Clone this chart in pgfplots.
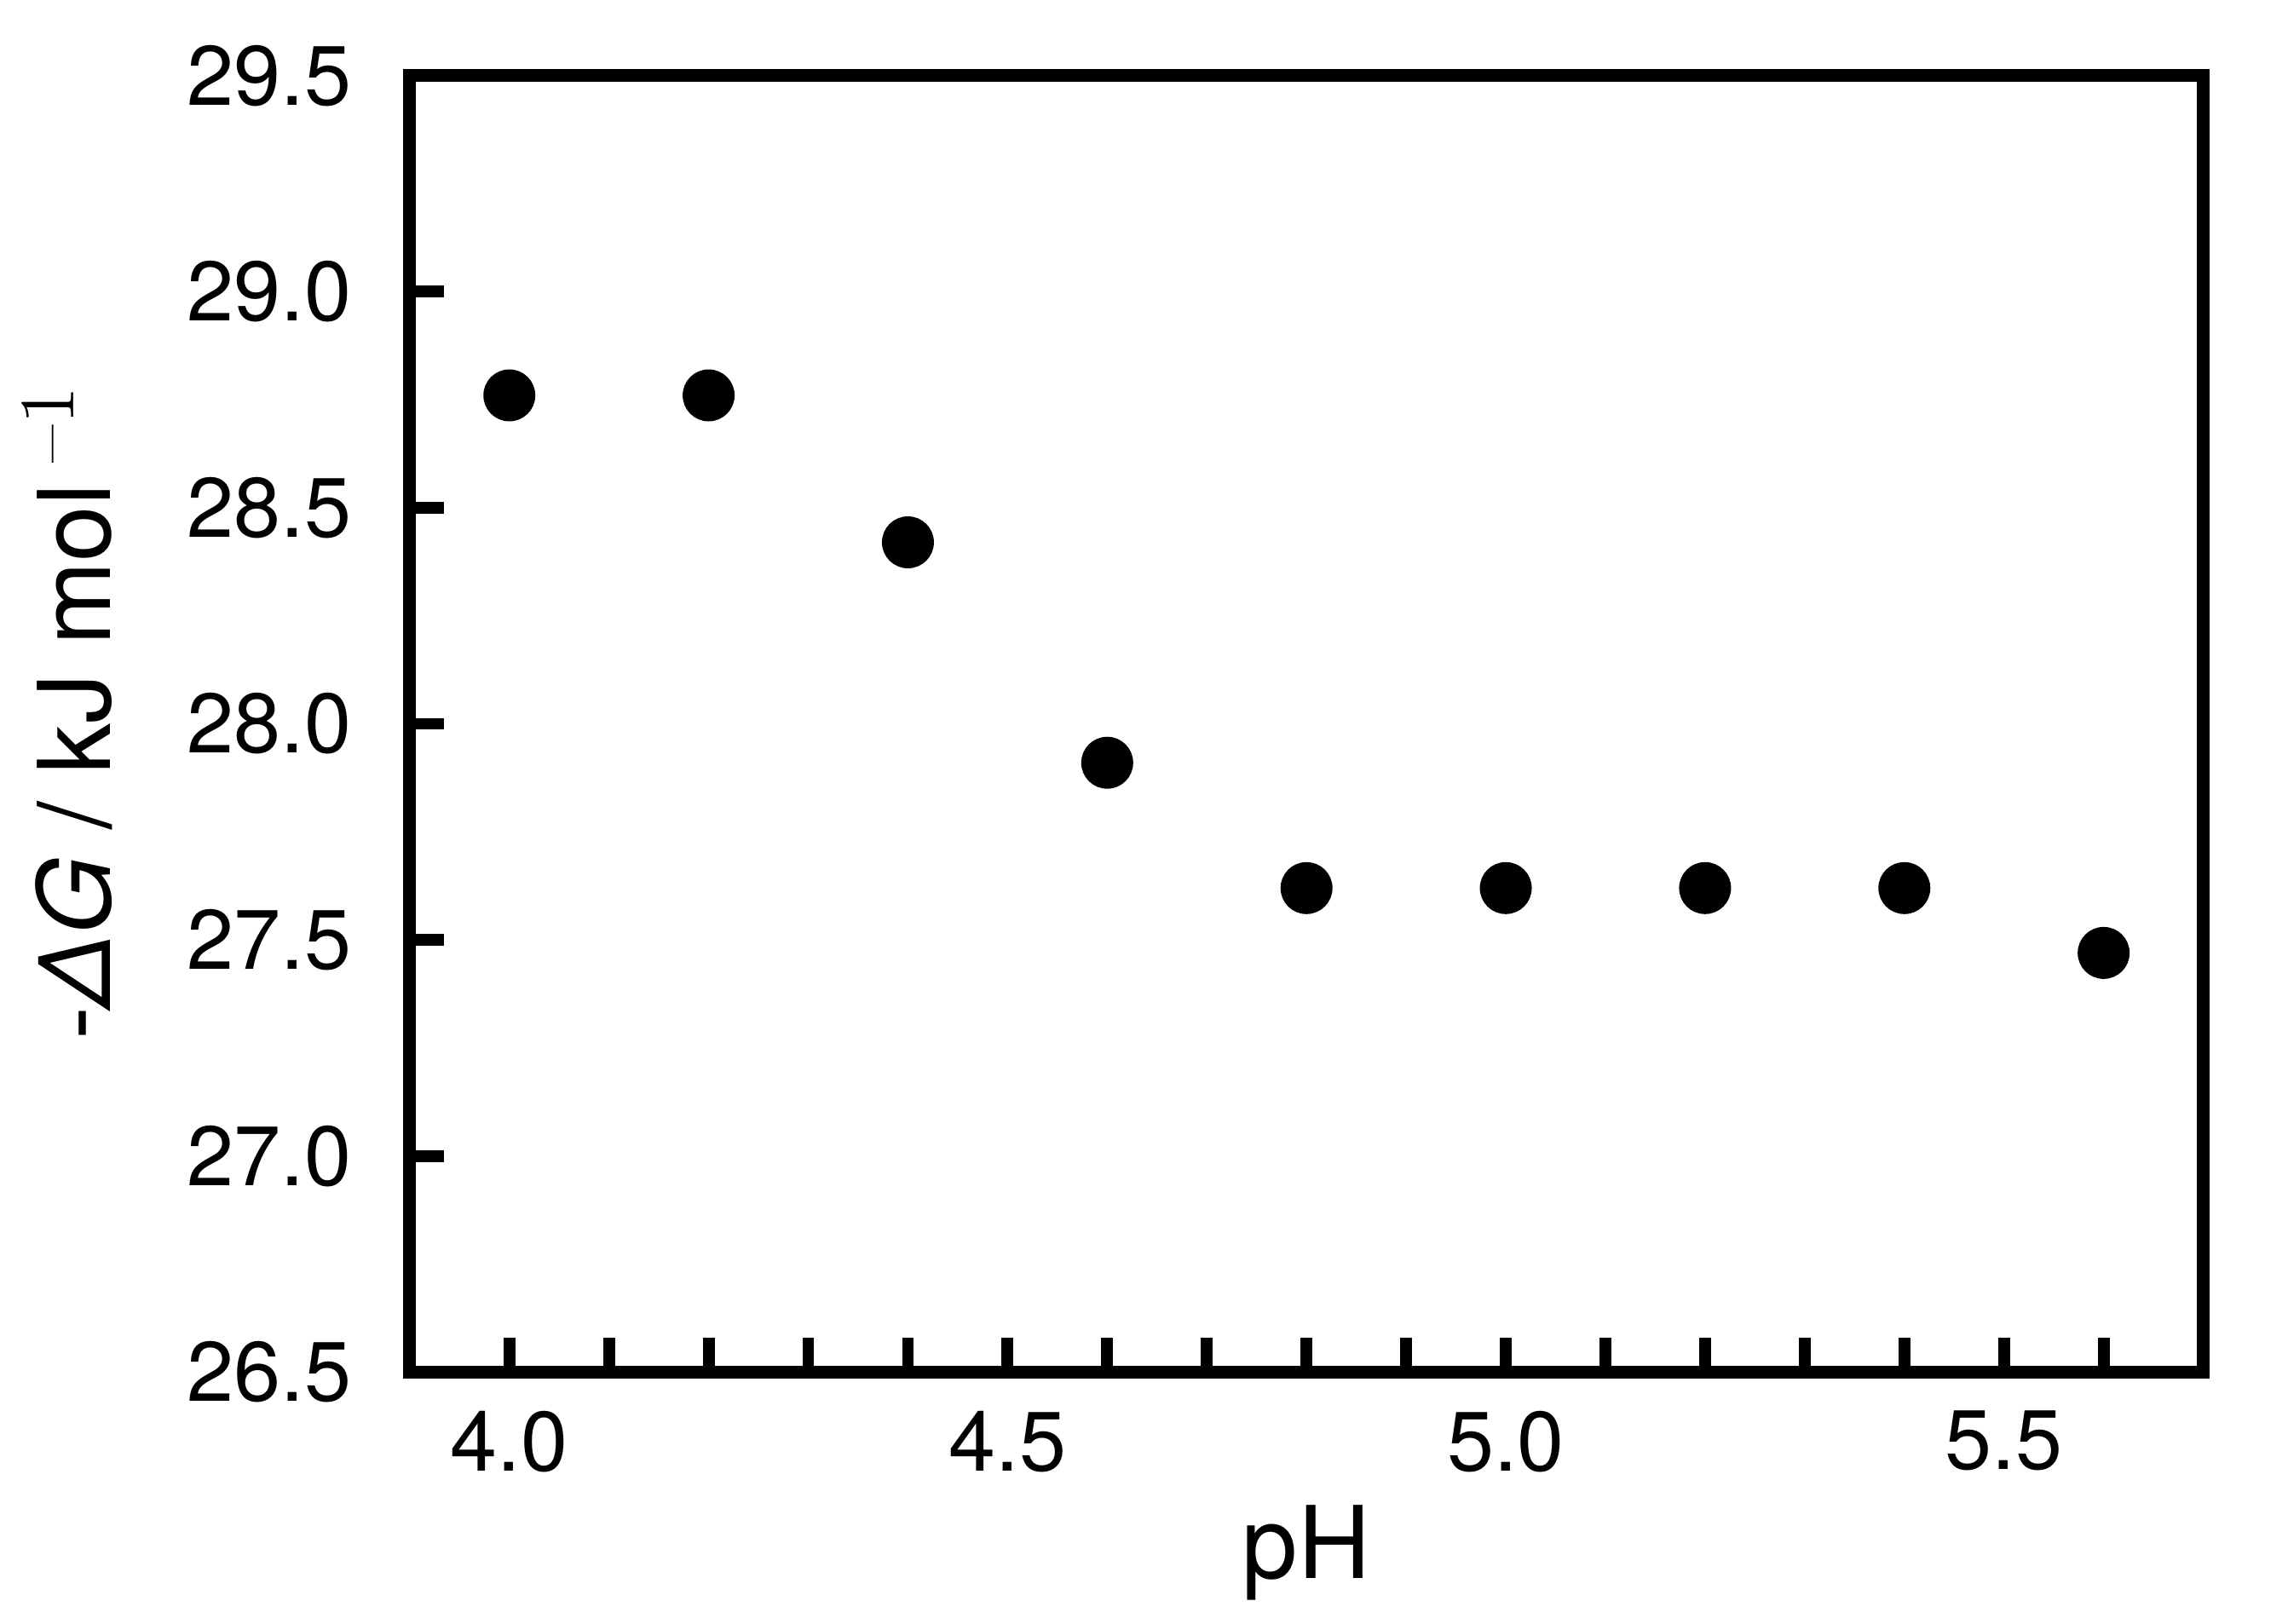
\documentclass[border=0pt]{standalone}
\usepackage{fontspec}
\setmainfont{TeX Gyre Heros}
\newfontfamily\lmr{Latin Modern Roman}
\usepackage{pgfplots}
\pgfplotsset{compat=1.18}

\begin{document}
\begin{tikzpicture}
\begin{axis}[
    scale only axis,
    width=303.8pt, height=219.65pt,
    xmin=3.9, xmax=5.7,
    ymin=26.5, ymax=29.5,
    axis line style={line width=2.15pt},
    xtick={4.0,4.5,5.0,5.5},
    minor xtick={4.1,4.2,4.3,4.4,4.6,4.7,4.8,4.9,5.1,5.2,5.3,5.4,5.6},
    ytick={26.5,27,27.5,28,28.5,29,29.5},
    tick align=inside,
    xtick pos=bottom, ytick pos=left,
    major tick length=5.8pt, minor tick length=5.8pt,
    tick style={line width=2pt, black},
    /pgf/number format/fixed,
    /pgf/number format/fixed zerofill,
    /pgf/number format/precision=1,
    /pgf/number format/assume math mode=true,
    tick label style={font=\fontsize{14.3}{16}\selectfont},
    xticklabel style={anchor=north, inner sep=0pt, yshift=-6.4pt},
    yticklabel style={anchor=east, inner sep=0pt, xshift=-9.7pt},
    xlabel={pH},
    xlabel style={at={(axis description cs:0.5,-0.1594)}, anchor=base,
                  inner sep=0pt, font=\fontsize{17}{20}\selectfont},
    ylabel={-{\itshape ΔG} / kJ mol\hspace{3.5pt}\raisebox{6.25pt}{\fontsize{13.2}{15}\lmr –1}},
    ylabel style={at={(axis description cs:-0.1667,0.508)}, anchor=base,
                  inner sep=0pt, font=\fontsize{17}{20}\selectfont},
]
\addplot[only marks, mark=*, mark size=4.2pt, black] coordinates {
    (4.0, 28.76) (4.2, 28.76) (4.4, 28.42) (4.6, 27.91) (4.8, 27.62)
    (5.0, 27.62) (5.2, 27.62) (5.4, 27.62) (5.6, 27.47)
};
\coordinate (bl) at (rel axis cs:0,0);
\coordinate (tr) at (rel axis cs:1,1);
\end{axis}
\pgfresetboundingbox
\useasboundingbox ([shift={(-69.4pt,-42.6pt)}]bl) rectangle ([shift={(14.35pt,12.8pt)}]tr);
\end{tikzpicture}
\end{document}
